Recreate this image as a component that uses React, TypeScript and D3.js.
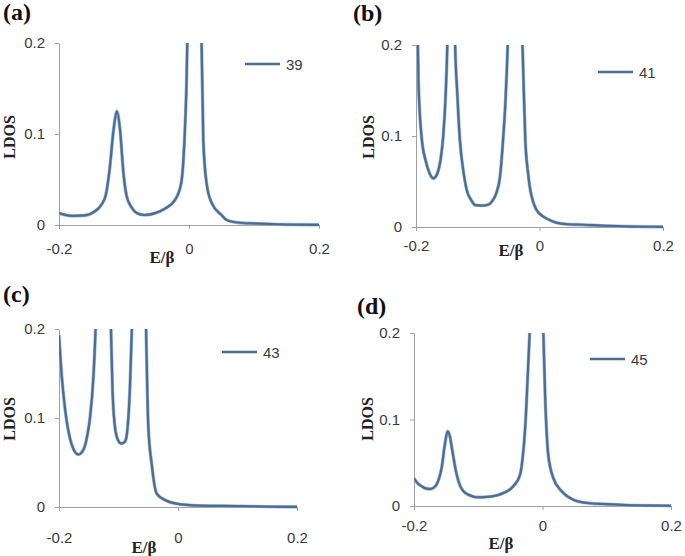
import { axisBottom, axisLeft, curveMonotoneX, line, scaleLinear, select } from "d3";
import { FC, useEffect, useRef } from "react";

// E/β sample points and LDOS values
const energyA = [-0.2, -0.18, -0.16, -0.145, -0.135, -0.128, -0.122, -0.116, -0.111, -0.106, -0.101, -0.096, -0.088, -0.08, -0.068, -0.052, -0.037, -0.022, -0.012, -0.007, -0.004, 0.0, 0.008, 0.017, 0.022, 0.027, 0.035, 0.05, 0.058, 0.078, 0.11, 0.15, 0.2];
const ldosA = [0.013, 0.01, 0.0105, 0.015, 0.022, 0.033, 0.062, 0.105, 0.125, 0.104, 0.058, 0.032, 0.019, 0.013, 0.011, 0.013, 0.018, 0.027, 0.046, 0.093, 0.15, 0.3, 0.9, 0.3, 0.093, 0.046, 0.024, 0.011, 0.0055, 0.0025, 0.0015, 0.0005, 0.0002];

const energyB = [-0.2, -0.196, -0.191, -0.184, -0.178, -0.172, -0.166, -0.16, -0.156, -0.152, -0.149, -0.143, -0.137, -0.133, -0.129, -0.123, -0.118, -0.11, -0.104, -0.094, -0.083, -0.076, -0.07, -0.064, -0.059, -0.055, -0.051, -0.04, -0.028, -0.025, -0.023, -0.019, -0.015, -0.01, -0.005, 0.003, 0.011, 0.027, 0.045, 0.07, 0.1, 0.15, 0.2];
const ldosB = [0.32, 0.16, 0.099, 0.072, 0.059, 0.0535, 0.058, 0.075, 0.099, 0.145, 0.21, 0.6, 0.21, 0.145, 0.096, 0.06, 0.041, 0.029, 0.024, 0.0235, 0.0245, 0.029, 0.037, 0.055, 0.096, 0.14, 0.21, 0.6, 0.21, 0.14, 0.096, 0.062, 0.041, 0.027, 0.019, 0.013, 0.0095, 0.0048, 0.003, 0.0025, 0.0015, 0.0005, 0.0002];

const energyC = [-0.2, -0.1955, -0.19, -0.1815, -0.175, -0.1675, -0.161, -0.156, -0.152, -0.148, -0.142, -0.138, -0.1255, -0.113, -0.11, -0.105, -0.1, -0.096, -0.092, -0.088, -0.084, -0.081, -0.077, -0.065, -0.054, -0.05, -0.044, -0.036, -0.022, -0.005, 0.037, 0.104, 0.15, 0.2];
const ldosC = [0.193, 0.148, 0.111, 0.077, 0.064, 0.059, 0.062, 0.0697, 0.082, 0.0997, 0.148, 0.21, 0.6, 0.21, 0.13, 0.085, 0.074, 0.0715, 0.072, 0.075, 0.095, 0.13, 0.21, 0.6, 0.21, 0.092, 0.047, 0.0154, 0.0079, 0.0041, 0.0015, 0.001, 0.0004, 0.0002];

const energyD = [-0.2, -0.194, -0.188, -0.18, -0.175, -0.17, -0.165, -0.161, -0.157, -0.152, -0.1475, -0.144, -0.141, -0.1335, -0.128, -0.123, -0.112, -0.102, -0.092, -0.0817, -0.07, -0.061, -0.0455, -0.035, -0.031, -0.027, -0.022, -0.019, -0.009, 0.001, 0.004, 0.009, 0.017, 0.03, 0.048, 0.07, 0.095, 0.13, 0.2];
const ldosD = [0.032, 0.026, 0.0228, 0.02, 0.0197, 0.021, 0.0247, 0.032, 0.044, 0.071, 0.0864, 0.08, 0.067, 0.036, 0.023, 0.017, 0.012, 0.0101, 0.0102, 0.0108, 0.0125, 0.015, 0.0228, 0.036, 0.055, 0.09, 0.167, 0.22, 0.7, 0.21, 0.129, 0.059, 0.032, 0.017, 0.0073, 0.0035, 0.0023, 0.001, 0.0003];

const panelTags = ["(a)", "(b)", "(c)", "(d)"];
const seriesNames = ["39", "41", "43", "45"];
const xTicks = [-0.2, 0, 0.2];
const yTicks = [0, 0.1, 0.2];

const LINE_COLOR = "#4b6d94";
const AXIS_COLOR = "#a0a0a0";
const TEXT_COLOR = "#3a3a3a";
const SANS = "'Liberation Sans', Arial, sans-serif";
const SERIF = "'Liberation Serif', 'Times New Roman', serif";

// layout for each panel (pixel boxes), data comes from the arrays above
const layout = [
  { l: 59, r: 319, t: 43, b: 225, xPad: 14, tag: [3, 20], xTitle: [162, 257], yTitle: [9, 137], legend: [245, 64] },
  { l: 416, r: 663, t: 45, b: 227, xPad: 9, tag: [353, 21], xTitle: [511, 250], yTitle: [368, 137], legend: [598, 72] },
  { l: 59, r: 297, t: 329, b: 507, xPad: 21, tag: [3, 302], xTitle: [144, 547], yTitle: [9, 419], legend: [222, 352] },
  { l: 414, r: 671, t: 333, b: 506, xPad: 10, tag: [357, 314], xTitle: [501, 543], yTitle: [367, 419], legend: [590, 359] },
];

const series = [
  { energy: energyA, ldos: ldosA },
  { energy: energyB, ldos: ldosB },
  { energy: energyC, ldos: ldosC },
  { energy: energyD, ldos: ldosD },
];

const fmt = (d: number) => (d === 0 ? "0" : String(d));

const App: FC = () => {
  const svgRef = useRef<SVGSVGElement>(null);

  useEffect(() => {
    const svg = select(svgRef.current);
    svg.selectAll("*").remove();
    svg.append("rect").attr("width", 685).attr("height", 556).attr("fill", "#fff");
    const defs = svg.append("defs");

    layout.forEach((p, i) => {
      const xScale = scaleLinear().domain([-0.2, 0.2]).range([p.l, p.r]);
      const yScale = scaleLinear().domain([0, 0.2]).range([p.b, p.t]);

      defs
        .append("clipPath")
        .attr("id", `clip-${i}`)
        .append("rect")
        .attr("x", p.l)
        .attr("y", p.t)
        .attr("width", p.r - p.l + 1)
        .attr("height", p.b - p.t + 2);

      const g = svg.append("g");

      // Y axis
      const yAxis = g
        .append("g")
        .attr("transform", `translate(${p.l},0)`)
        .call(axisLeft(yScale).tickValues(yTicks).tickSize(4).tickSizeOuter(0).tickPadding(10).tickFormat((d) => fmt(+d)));
      // X axis
      const xAxis = g
        .append("g")
        .attr("transform", `translate(0,${p.b})`)
        .call(axisBottom(xScale).tickValues(xTicks).tickSize(4).tickSizeOuter(0).tickPadding(p.xPad).tickFormat((d) => fmt(+d)));

      [yAxis, xAxis].forEach((ax) => {
        ax.select(".domain").attr("stroke", AXIS_COLOR);
        ax.selectAll(".tick line").attr("stroke", AXIS_COLOR);
        ax.selectAll(".tick text")
          .attr("fill", TEXT_COLOR)
          .style("font-family", SANS)
          .style("font-size", "15px");
      });

      // curve
      const pts = series[i].energy.map((e, k) => [e, series[i].ldos[k]] as [number, number]);
      const path = line<[number, number]>()
        .x((d) => xScale(d[0]))
        .y((d) => yScale(d[1]))
        .curve(curveMonotoneX);

      g.append("path")
        .attr("d", path(pts))
        .attr("clip-path", `url(#clip-${i})`)
        .attr("fill", "none")
        .attr("stroke", "#9cb8d8")
        .attr("stroke-width", 3.4)
        .attr("stroke-linejoin", "round");
      g.append("path")
        .attr("d", path(pts))
        .attr("clip-path", `url(#clip-${i})`)
        .attr("fill", "none")
        .attr("stroke", LINE_COLOR)
        .attr("stroke-width", 2.2)
        .attr("stroke-linejoin", "round");

      // titles
      g.append("text")
        .attr("x", p.xTitle[0])
        .attr("y", p.xTitle[1])
        .attr("text-anchor", "middle")
        .attr("dominant-baseline", "central")
        .style("font-family", SERIF)
        .style("font-weight", "bold")
        .style("font-size", "17px")
        .attr("fill", "#222")
        .text("E/β");

      g.append("text")
        .attr("transform", `translate(${p.yTitle[0]},${p.yTitle[1]}) rotate(-90)`)
        .attr("text-anchor", "middle")
        .attr("dominant-baseline", "central")
        .style("font-family", SERIF)
        .style("font-weight", "bold")
        .style("font-size", "16px")
        .attr("fill", "#222")
        .text("LDOS");

      g.append("text")
        .attr("x", p.tag[0])
        .attr("y", p.tag[1])
        .style("font-family", SERIF)
        .style("font-weight", "bold")
        .style("font-size", "24px")
        .attr("fill", "#111")
        .text(panelTags[i]);

      // legend
      g.append("line")
        .attr("x1", p.legend[0])
        .attr("x2", p.legend[0] + 35)
        .attr("y1", p.legend[1])
        .attr("y2", p.legend[1])
        .attr("stroke", LINE_COLOR)
        .attr("stroke-width", 2.5);
      g.append("text")
        .attr("x", p.legend[0] + 41)
        .attr("y", p.legend[1])
        .attr("dominant-baseline", "central")
        .style("font-family", SANS)
        .style("font-size", "15px")
        .attr("fill", TEXT_COLOR)
        .text(seriesNames[i]);
    });
  }, []);

  return (
    <svg
      ref={svgRef}
      width={685}
      height={556}
      style={{ position: "absolute", left: 0, top: 0, display: "block" }}
    />
  );
};

export default App;
